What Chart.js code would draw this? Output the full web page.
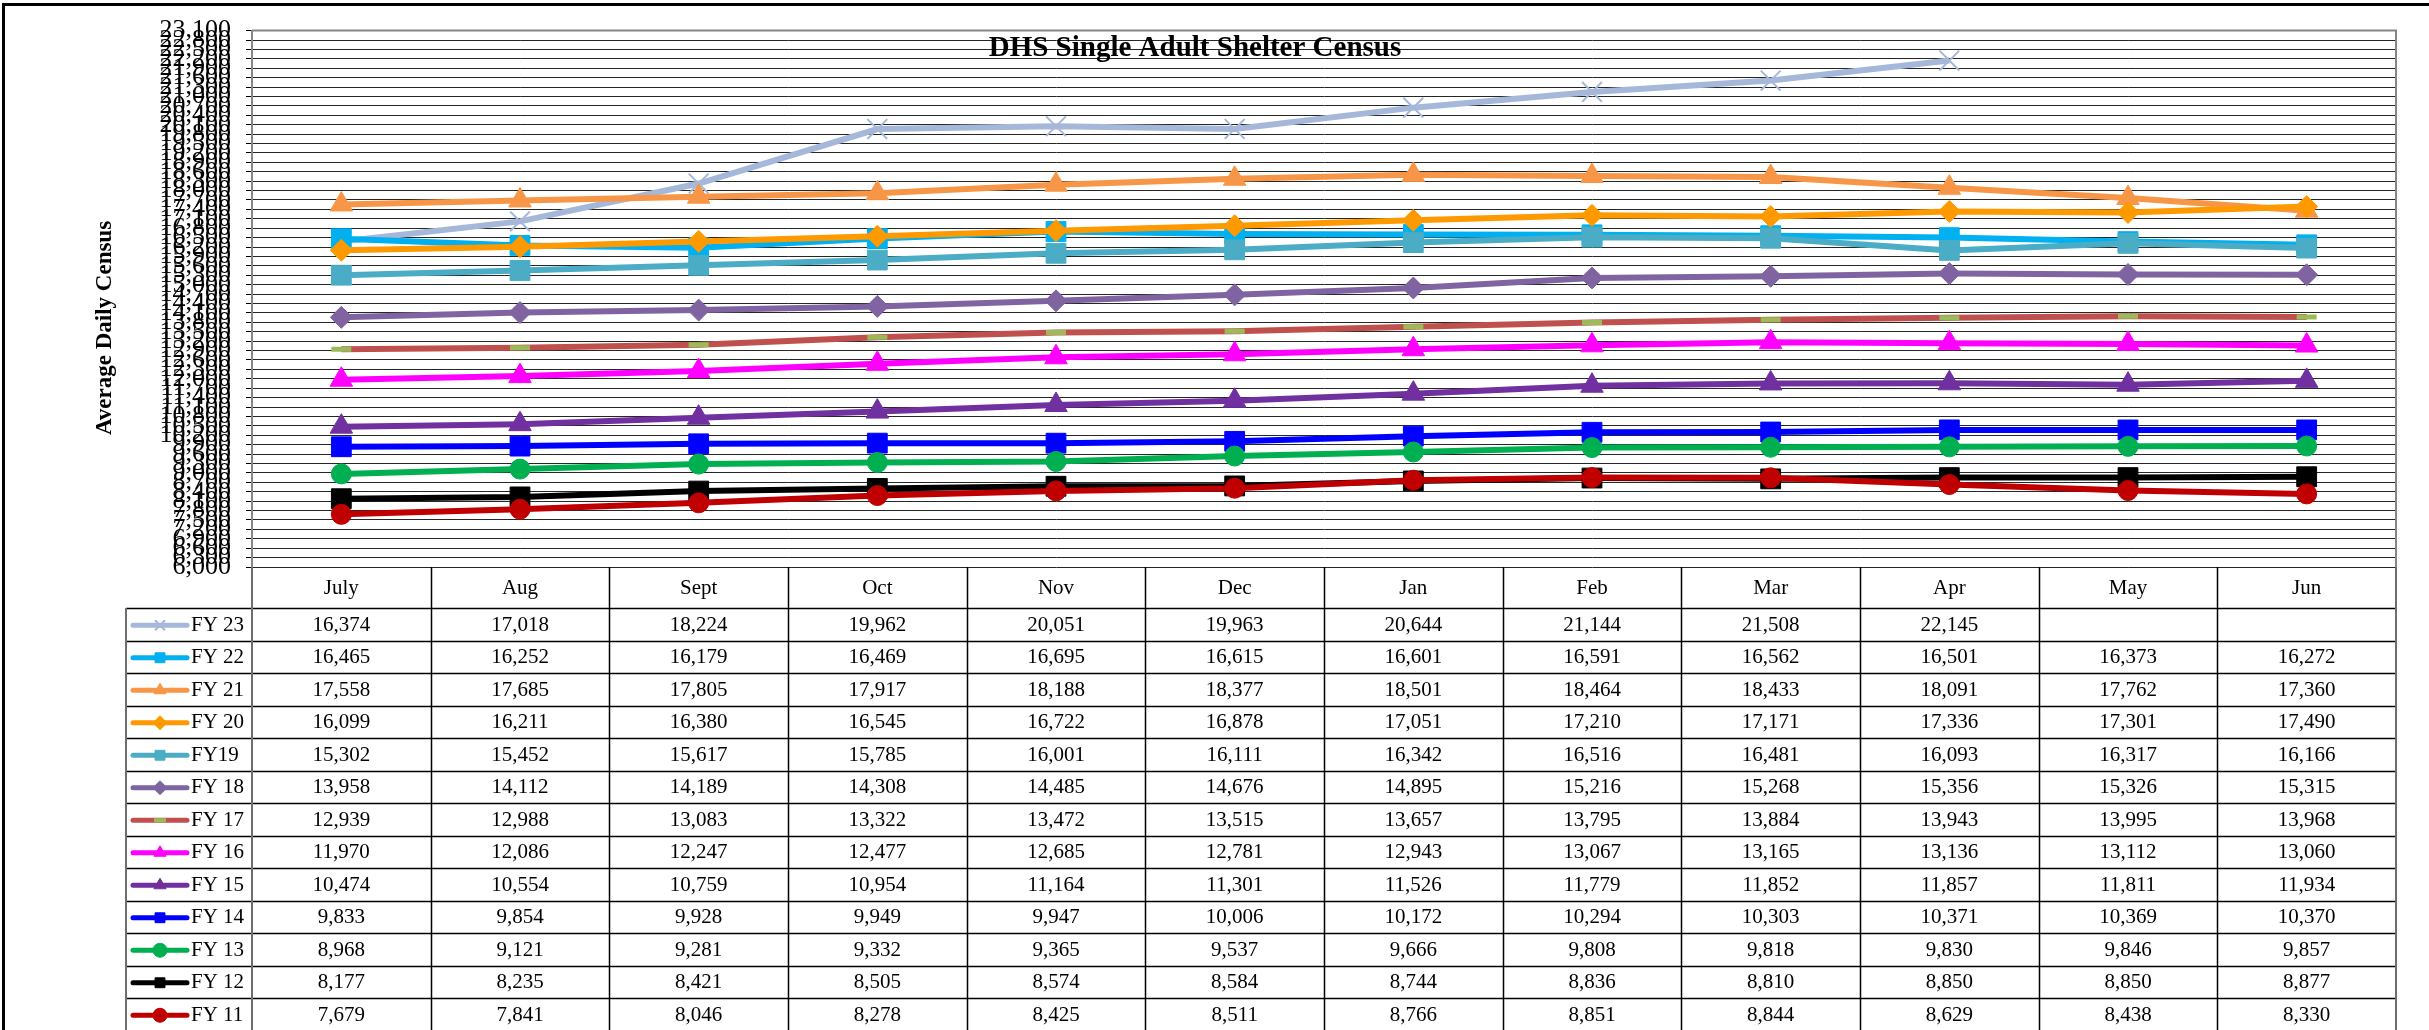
<!DOCTYPE html>
<html>
<head>
<meta charset="utf-8">
<script src="https://cdn.jsdelivr.net/npm/chart.js@4.4.0/dist/chart.umd.min.js"></script>
<style>
  html, body { margin: 0; padding: 0; background: #fff; }
  #wrap { width: 2429px; height: 1030px; }
</style>
</head>
<body>
<div id="wrap"><canvas id="census"></canvas></div>
<script>
// Months of the fiscal year (table header / x categories)
var months = ['July', 'Aug', 'Sept', 'Oct', 'Nov', 'Dec', 'Jan', 'Feb', 'Mar', 'Apr', 'May', 'Jun'];

// Series names, top row of the table first
var fyNames = ['FY 23', 'FY 22', 'FY 21', 'FY 20', 'FY19', 'FY 18', 'FY 17', 'FY 16', 'FY 15', 'FY 14', 'FY 13', 'FY 12', 'FY 11'];

// Average daily census per month
var fy23 = [16374, 17018, 18224, 19962, 20051, 19963, 20644, 21144, 21508, 22145, null, null];
var fy22 = [16465, 16252, 16179, 16469, 16695, 16615, 16601, 16591, 16562, 16501, 16373, 16272];
var fy21 = [17558, 17685, 17805, 17917, 18188, 18377, 18501, 18464, 18433, 18091, 17762, 17360];
var fy20 = [16099, 16211, 16380, 16545, 16722, 16878, 17051, 17210, 17171, 17336, 17301, 17490];
var fy19 = [15302, 15452, 15617, 15785, 16001, 16111, 16342, 16516, 16481, 16093, 16317, 16166];
var fy18 = [13958, 14112, 14189, 14308, 14485, 14676, 14895, 15216, 15268, 15356, 15326, 15315];
var fy17 = [12939, 12988, 13083, 13322, 13472, 13515, 13657, 13795, 13884, 13943, 13995, 13968];
var fy16 = [11970, 12086, 12247, 12477, 12685, 12781, 12943, 13067, 13165, 13136, 13112, 13060];
var fy15 = [10474, 10554, 10759, 10954, 11164, 11301, 11526, 11779, 11852, 11857, 11811, 11934];
var fy14 = [9833, 9854, 9928, 9949, 9947, 10006, 10172, 10294, 10303, 10371, 10369, 10370];
var fy13 = [8968, 9121, 9281, 9332, 9365, 9537, 9666, 9808, 9818, 9830, 9846, 9857];
var fy12 = [8177, 8235, 8421, 8505, 8574, 8584, 8744, 8836, 8810, 8850, 8850, 8877];
var fy11 = [7679, 7841, 8046, 8278, 8425, 8511, 8766, 8851, 8844, 8629, 8438, 8330];

// Y axis tick labels: 6,000 to 23,100 every 300
var yMin = 6000;
var yMax = 23100;
var yStep = 300;

var series = [fy23, fy22, fy21, fy20, fy19, fy18, fy17, fy16, fy15, fy14, fy13, fy12, fy11];

// Look of each series
var colors = ['#A6B8D9', '#00B0F0', '#F79646', '#FF9900', '#4BACC6', '#8064A2', '#C0504D',
              '#FF00FF', '#7030A0', '#0000FF', '#00B050', '#000000', '#C00000'];
var markers = ['crossRot', 'rect', 'triangle', 'rectRot', 'rect', 'rectRot', 'line',
               'triangle', 'triangle', 'rect', 'circle', 'rect', 'circle'];
var markerSize = { crossRot: 14, rect: 14, triangle: 13, rectRot: 11, line: 10, circle: 10 };

var serif = "'Liberation Serif', 'Times New Roman', serif";

function markerColor(i) {
  return markers[i] === 'line' ? '#9BBB59' : colors[i];
}
function markerBorder(i) {
  if (markers[i] === 'line') return 5;
  if (markers[i] === 'crossRot') return 2;
  return 1;
}

var datasets = series.map(function (vals, i) {
  return {
    label: fyNames[i],
    data: vals,
    borderColor: colors[i],
    backgroundColor: colors[i],
    borderWidth: 6,
    tension: 0,
    pointStyle: markers[i],
    pointRadius: markerSize[markers[i]],
    pointBackgroundColor: markerColor(i),
    pointBorderColor: markerColor(i),
    pointBorderWidth: markerBorder(i),
    order: series.length - i   // later series on top, like the original
  };
});

// Draws title, axis title, frame and the data table under the plot
var tablePlugin = {
  id: 'dataTable',
  beforeDatasetsDraw: function (chart) {
    var ctx = chart.ctx, a = chart.chartArea;
    ctx.save();
    ctx.strokeStyle = '#868686';
    ctx.lineWidth = 2;
    ctx.beginPath();
    ctx.moveTo(a.left, a.top);
    ctx.lineTo(a.right, a.top);
    ctx.lineTo(a.right, a.bottom);
    ctx.stroke();
    ctx.restore();
  },
  afterDraw: function (chart) {
    var ctx = chart.ctx, a = chart.chartArea, xs = chart.scales.x;
    var colW = (a.right - a.left) / months.length;
    var headTop = a.bottom, headH = 41, rowH = 32.5;
    var bodyTop = headTop + headH;
    var keyLeft = 126;
    var bottom = chart.height;

    ctx.save();

    // outer frame (top and left edges visible)
    ctx.fillStyle = '#000';
    ctx.fillRect(2, 3, chart.width - 2, 3);
    ctx.fillRect(2, 3, 3, bottom - 3);

    // chart title
    ctx.fillStyle = '#000';
    ctx.font = 'bold 29px ' + serif;
    ctx.textAlign = 'center';
    ctx.textBaseline = 'middle';
    ctx.fillText('DHS Single Adult Shelter Census', 1195, 49);

    // y axis title
    ctx.save();
    ctx.translate(105, 328);
    ctx.rotate(-Math.PI / 2);
    ctx.font = 'bold 23px ' + serif;
    ctx.fillText('Average Daily Census', 0, 0);
    ctx.restore();

    // table grid
    ctx.strokeStyle = '#000';
    ctx.lineWidth = 1.5;
    for (var c = 1; c < months.length; c++) {
      var vx = Math.round(a.left + c * colW) + 0.5;
      ctx.beginPath();
      ctx.moveTo(vx, headTop);
      ctx.lineTo(vx, bottom);
      ctx.stroke();
    }
    for (var r = 0; r <= series.length; r++) {
      var hy = Math.round(bodyTop + r * rowH) + 0.5;
      ctx.beginPath();
      ctx.moveTo(keyLeft, hy);
      ctx.lineTo(a.right, hy);
      ctx.stroke();
    }
    ctx.strokeStyle = '#6e6e6e';
    ctx.lineWidth = 2;
    ctx.beginPath();
    ctx.moveTo(a.left, headTop);
    ctx.lineTo(a.left, bottom);
    ctx.moveTo(a.right, headTop);
    ctx.lineTo(a.right, bottom);
    ctx.moveTo(keyLeft, bodyTop);
    ctx.lineTo(keyLeft, bottom);
    ctx.stroke();

    // header row
    ctx.fillStyle = '#000';
    ctx.font = '21px ' + serif;
    ctx.textAlign = 'center';
    months.forEach(function (m, i) {
      ctx.fillText(m, xs.getPixelForValue(i), headTop + headH / 2 + 1);
    });

    // rows
    series.forEach(function (vals, r) {
      var cy = bodyTop + r * rowH + rowH / 2 + 1;
      vals.forEach(function (v, i) {
        if (v === null) return;
        ctx.fillStyle = '#000';
        ctx.textAlign = 'center';
        ctx.fillText(v.toLocaleString('en-US'), xs.getPixelForValue(i), cy);
      });

      // legend key
      ctx.strokeStyle = colors[r];
      ctx.lineWidth = 5;
      ctx.lineCap = 'round';
      ctx.beginPath();
      ctx.moveTo(keyLeft + 7, cy);
      ctx.lineTo(keyLeft + 61, cy);
      ctx.stroke();
      ctx.lineCap = 'butt';
      ctx.fillStyle = markerColor(r);
      ctx.strokeStyle = markerColor(r);
      ctx.lineWidth = markers[r] === 'line' ? 4 : (markers[r] === 'crossRot' ? 2 : 1);
      Chart.helpers.drawPoint(ctx, {
        pointStyle: markers[r],
        radius: markers[r] === 'line' ? 6 : 7,
        rotation: 0,
        borderWidth: ctx.lineWidth
      }, keyLeft + 34, cy);

      ctx.fillStyle = '#000';
      ctx.textAlign = 'left';
      ctx.font = '21px ' + serif;
      ctx.fillText(fyNames[r], keyLeft + 65, cy);
    });

    ctx.restore();
  }
};

new Chart(document.getElementById('census'), {
  type: 'line',
  data: { labels: months, datasets: datasets },
  options: {
    responsive: true,
    maintainAspectRatio: false,
    animation: false,
    locale: 'en-US',
    layout: { padding: { left: 0, right: 33, top: 22, bottom: 463 } },
    plugins: {
      legend: { display: false },
      tooltip: { enabled: false },
      title: { display: false }
    },
    scales: {
      x: {
        type: 'category',
        display: false,
        offset: true
      },
      y: {
        min: yMin,
        max: yMax,
        afterFit: function (scale) { scale.width = 252; },
        border: { color: '#868686', width: 2 },
        grid: {
          color: '#262626',
          lineWidth: 1,
          drawTicks: true,
          tickLength: 6,
          tickColor: '#000'
        },
        ticks: {
          stepSize: yStep,
          autoSkip: false,
          padding: 15,
          color: '#000',
          font: { family: serif, size: 26 }
        }
      }
    }
  },
  plugins: [tablePlugin]
});
</script>
</body>
</html>
